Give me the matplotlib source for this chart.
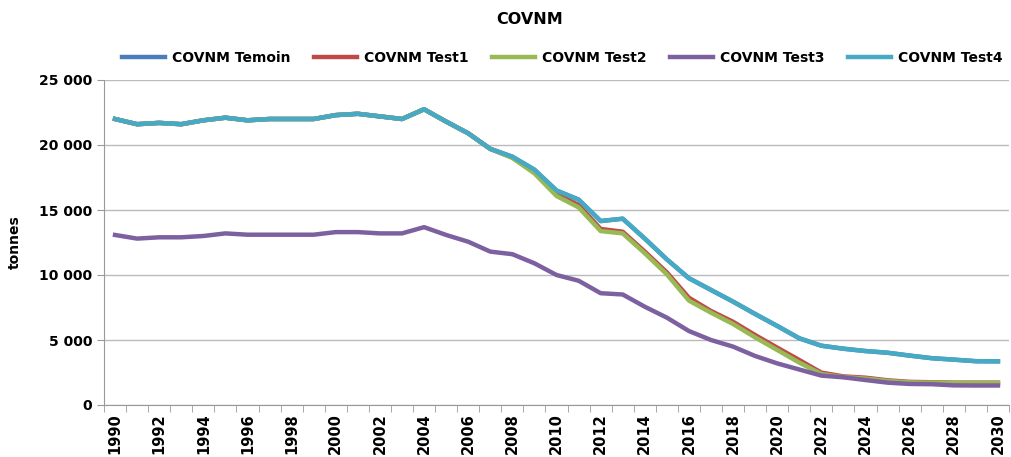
import numpy as np
import matplotlib
matplotlib.use("Agg")
import matplotlib.pyplot as plt
from matplotlib.ticker import FuncFormatter, MultipleLocator

years = list(range(1990, 2031))

test4 = [22000, 21600, 21700, 21600, 21900, 22100, 21900, 22000, 22000, 22000,
         22300, 22400, 22200, 22000, 22750, 21800, 20900, 19700, 19100, 18100,
         16500, 15800, 14150, 14330, 12800, 11200, 9750, 8850, 7950, 7000,
         6080, 5130, 4560, 4330, 4150, 4020, 3800, 3600, 3490, 3370, 3360]
temoin = list(test4)
test1 = [22000, 21600, 21700, 21600, 21900, 22100, 21900, 22000, 22000, 22000,
         22300, 22400, 22200, 22000, 22750, 21800, 20900, 19700, 19050, 17950,
         16230, 15380, 13540, 13330, 11800, 10200, 8250, 7230, 6400, 5380,
         4410, 3460, 2490, 2200, 2100, 1900, 1780, 1750, 1720, 1720, 1720]
test2 = [22000, 21600, 21700, 21600, 21900, 22100, 21900, 22000, 22000, 22000,
         22300, 22400, 22200, 22000, 22750, 21800, 20900, 19700, 19000, 17820,
         16080, 15200, 13380, 13200, 11670, 10050, 8030, 7100, 6230, 5200,
         4230, 3260, 2380, 2150, 2030, 1850, 1740, 1720, 1700, 1700, 1700]
test3 = [13080, 12800, 12900, 12900, 13000, 13200, 13100, 13100, 13100, 13100,
         13300, 13300, 13200, 13200, 13680, 13080, 12560, 11800, 11600, 10900,
         10000, 9560, 8600, 8500, 7560, 6720, 5690, 5000, 4490, 3770,
         3200, 2730, 2260, 2130, 1920, 1720, 1620, 1600, 1510, 1500, 1500]

series = [
    ("COVNM Temoin", temoin, "#4A7EBB"),
    ("COVNM Test1", test1, "#BE4B48"),
    ("COVNM Test2", test2, "#98B954"),
    ("COVNM Test3", test3, "#7D60A0"),
    ("COVNM Test4", test4, "#46AAC5"),
]

plt.rcParams['font.family'] = ['DejaVu Sans']
plt.rcParams['font.weight'] = 'bold'

fig = plt.figure(figsize=(10.11, 4.57), dpi=100)
ax = fig.add_axes([104/1011, 1 - 405/457, (1009-104)/1011, (405-80)/457])

for name, vals, col in series:
    ax.plot(years, vals, color=col, lw=3.2, label=name, solid_joinstyle='round')

ax.set_xlim(1989.5, 2030.5)
ax.set_ylim(0, 25000)
ax.yaxis.set_major_locator(MultipleLocator(5000))
ax.yaxis.set_major_formatter(FuncFormatter(lambda v, p: f"{int(v):,}".replace(",", " ")))
ax.set_xticks(years[::2])
ax.set_xticklabels([str(y) for y in years[::2]], rotation=90, fontsize=10.5, fontweight='bold')
ax.set_xticks(np.arange(1989.5, 2031, 1), minor=True)
ax.tick_params(axis='x', which='major', length=0, pad=6)
ax.tick_params(axis='x', which='minor', length=5, color='#999999', direction='out')
ax.tick_params(axis='y', length=5, color='#999999', labelsize=10)
for lab in ax.get_yticklabels():
    lab.set_fontweight('bold')

ax.grid(axis='y', color='#BBBBBB', lw=1)
ax.set_axisbelow(True)
for s in ['top', 'right']:
    ax.spines[s].set_visible(False)
for s in ['left', 'bottom']:
    ax.spines[s].set_color('#999999')

ax.set_ylabel("tonnes", fontsize=10, fontweight='bold', labelpad=12)
fig.text(0.524, 1 - 20/457, "COVNM", ha='center', va='center', fontsize=11.5, fontweight='bold')

leg = fig.legend(*ax.get_legend_handles_labels(), loc='center left',
                 bbox_to_anchor=(116/1011, 1 - 58/457), ncol=5, frameon=False,
                 fontsize=10, handlelength=3.1, columnspacing=1.7, handletextpad=0.5,
                 borderaxespad=0.0)
for t in leg.get_texts():
    t.set_fontweight('bold')

fig.savefig("out.png", dpi=100)
